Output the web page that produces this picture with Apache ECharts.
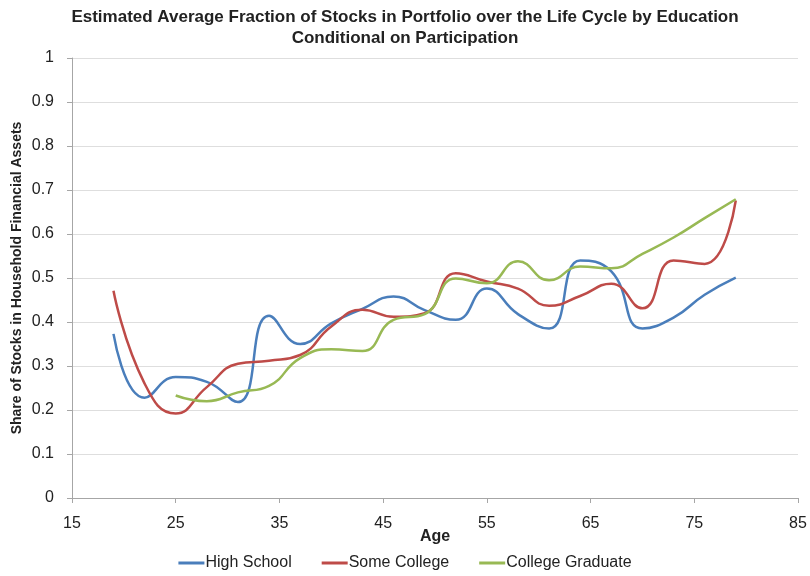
<!DOCTYPE html>
<html>
<head>
<meta charset="utf-8">
<script src="https://cdn.jsdelivr.net/npm/echarts@6/dist/echarts.min.js"></script>
<style>
  html, body { margin: 0; padding: 0; background: #fff; }
  #chart { width: 810px; height: 576px; }
</style>
</head>
<body>
<div id="chart"></div>
<script>
// ages (every 3 years)
var ages = [19, 22, 25, 28, 31, 34, 37, 40, 43, 46, 49, 52, 55, 58, 61, 64, 67, 70, 73, 76, 79];

var highSchool = [0.373, 0.228, 0.275, 0.264, 0.218, 0.414, 0.350, 0.397, 0.430, 0.458, 0.427, 0.405, 0.476, 0.418, 0.385, 0.540, 0.515, 0.385, 0.410, 0.462, 0.501];
var someCollege = [0.471, 0.260, 0.192, 0.252, 0.305, 0.312, 0.325, 0.390, 0.428, 0.412, 0.420, 0.511, 0.492, 0.476, 0.437, 0.459, 0.487, 0.431, 0.540, 0.532, 0.676];
// college graduates start at 25
var collegeGrad = [null, null, 0.233, 0.220, 0.240, 0.255, 0.318, 0.338, 0.334, 0.405, 0.418, 0.499, 0.488, 0.538, 0.495, 0.526, 0.522, 0.555, 0.592, 0.636, 0.679];

function pairs(vals) {
    var out = [];
    for (var i = 0; i < ages.length; i++) {
        if (vals[i] != null) out.push([ages[i], vals[i]]);
    }
    return out;
}

var chart = echarts.init(document.getElementById('chart'));
var font = 'Liberation Sans';

var option = {
    animation: false,
    title: {
        text: 'Estimated Average Fraction of Stocks in Portfolio over the Life Cycle by Education\nConditional on Participation',
        left: 'center',
        top: 2,
        textStyle: { fontFamily: font, fontSize: 17, fontWeight: 'bold', color: '#222', lineHeight: 21 }
    },
    legend: {
        bottom: 0,
        left: 'center',
        icon: 'rect',
        itemWidth: 26,
        itemHeight: 3,
        itemGap: 30,
        textStyle: { fontFamily: font, fontSize: 16, color: '#222', padding: [0, 0, 0, -4] },
        data: ['High School', 'Some College', 'College Graduate']
    },
    grid: { left: 72, right: 12, top: 58, bottom: 78 },
    xAxis: {
        type: 'value',
        min: 15, max: 85, interval: 10,
        name: 'Age',
        nameLocation: 'middle',
        nameMoveOverlap: false,
        nameGap: 31,
        nameTextStyle: { fontFamily: font, fontSize: 16, fontWeight: 'bold', color: '#222' },
        axisLine: { lineStyle: { color: '#a6a6a6' } },
        axisTick: { show: true, length: 5, lineStyle: { color: '#a6a6a6' } },
        axisLabel: { fontFamily: font, fontSize: 16, color: '#222', margin: 18 },
        splitLine: { show: false }
    },
    yAxis: {
        type: 'value',
        min: 0, max: 1, interval: 0.1,
        name: 'Share of Stocks in Household Financial Assets',
        nameLocation: 'middle',
        nameMoveOverlap: false,
        nameGap: 48,
        nameTextStyle: { fontFamily: font, fontSize: 14, fontWeight: 'bold', color: '#222' },
        axisLine: { show: true, lineStyle: { color: '#a6a6a6' } },
        axisTick: { show: true, length: 5, lineStyle: { color: '#a6a6a6' } },
        axisLabel: { fontFamily: font, fontSize: 16, color: '#222', margin: 18 },
        splitLine: { lineStyle: { color: '#dedede', width: 1 } }
    },
    series: [{
        name: 'High School',
        type: 'line',
        smooth: 0.5,
        showSymbol: false,
        lineStyle: { width: 2.5 },
        color: '#4a7ebb',
        data: pairs(highSchool)
    }, {
        name: 'Some College',
        type: 'line',
        smooth: 0.5,
        showSymbol: false,
        lineStyle: { width: 2.5 },
        color: '#be4b48',
        data: pairs(someCollege)
    }, {
        name: 'College Graduate',
        type: 'line',
        smooth: 0.5,
        showSymbol: false,
        lineStyle: { width: 2.5 },
        color: '#98b954',
        data: pairs(collegeGrad)
    }]
};

chart.setOption(option);
</script>
</body>
</html>
